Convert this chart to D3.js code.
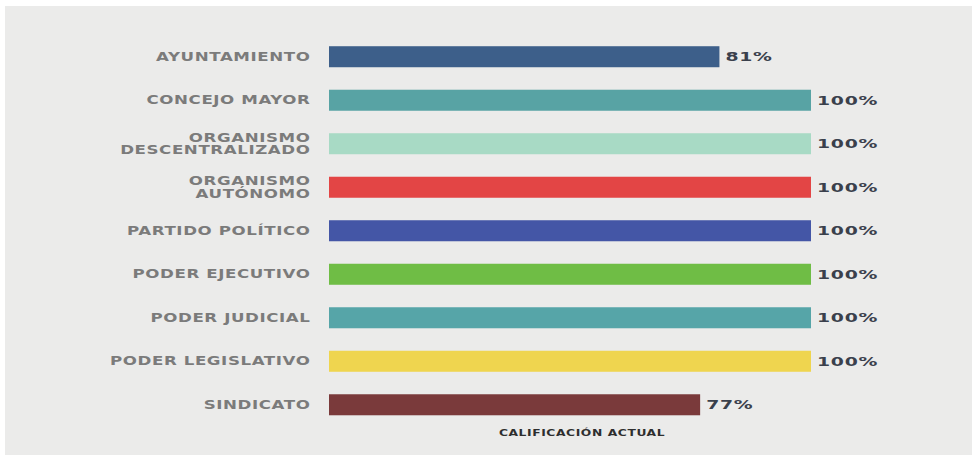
<!DOCTYPE html>
<html><head><meta charset="utf-8">
<script src="https://cdn.jsdelivr.net/npm/d3@7"></script>
<style>html,body{margin:0;padding:0;background:#fff;}svg{display:block;}</style>
</head><body>
<svg id="chart" width="972" height="455"></svg>
<script>
const categories = ["AYUNTAMIENTO","CONCEJO MAYOR","ORGANISMO\nDESCENTRALIZADO","ORGANISMO\nAUTÓNOMO","PARTIDO POLÍTICO","PODER EJECUTIVO","PODER JUDICIAL","PODER LEGISLATIVO","SINDICATO"];
const values = [81,100,100,100,100,100,100,100,77];
const colors = ["#3d5f8a","#58a3a4","#a8dac5","#e34545","#4456a6","#6fbd45","#56a5a8","#efd54f","#7a3a3b"];
const axisTitle = "CALIFICACIÓN ACTUAL";

const svg = d3.select("#chart");
svg.append("rect").attr("x",5).attr("y",6).attr("width",967).attr("height",449).attr("fill","#ebebea");

const x = d3.scaleLinear().domain([0,100]).range([329,811]);
const y = d3.scaleBand().domain(categories).range([35,426.5]).paddingInner(0.517).paddingOuter(0.258);
const sx = 1.45;

svg.selectAll("rect.bar").data(values).join("rect").attr("class","bar")
  .attr("x",x(0)).attr("y",(d,i)=>y(categories[i]))
  .attr("width",d=>x(d)-x(0)).attr("height",y.bandwidth())
  .attr("fill",(d,i)=>colors[i]);

const lab = svg.selectAll("text.cat").data(categories).join("text").attr("class","cat")
  .attr("text-anchor","end")
  .attr("transform",`translate(310.5,0) scale(${sx},1)`)
  .attr("font-family","DejaVu Sans").attr("font-weight","bold").attr("font-size","11.5px")
  .attr("letter-spacing","0.4px")
  .attr("fill","#7b7b7b");
lab.each(function(d){
  const lines = d.split("\n");
  const cy = y(d)+y.bandwidth()/2;
  const lh = 12.5;
  const t = d3.select(this);
  lines.forEach((l,j)=>{
    t.append("tspan").attr("x",0).attr("y",cy + (j-(lines.length-1)/2)*lh).attr("dy","0.36em").text(l);
  });
});

svg.selectAll("text.val").data(values).join("text").attr("class","val")
  .attr("transform",(d,i)=>`translate(${x(d)+6},${y(categories[i])+y.bandwidth()/2}) scale(${sx},1)`)
  .attr("dy","0.36em")
  .attr("font-family","DejaVu Sans").attr("font-weight","bold").attr("font-size","13px")
  .attr("letter-spacing","0.5px")
  .attr("fill","#3a404c").text(d=>d+"%");

svg.append("text").attr("transform",`translate(582,433) scale(${sx},1)`).attr("dy","0.36em").attr("text-anchor","middle")
  .attr("font-family","DejaVu Sans").attr("font-weight","bold").attr("font-size","8.5px")
  .attr("letter-spacing","0.4px")
  .attr("fill","#2e2e2e").text(axisTitle);
</script>
</body></html>
